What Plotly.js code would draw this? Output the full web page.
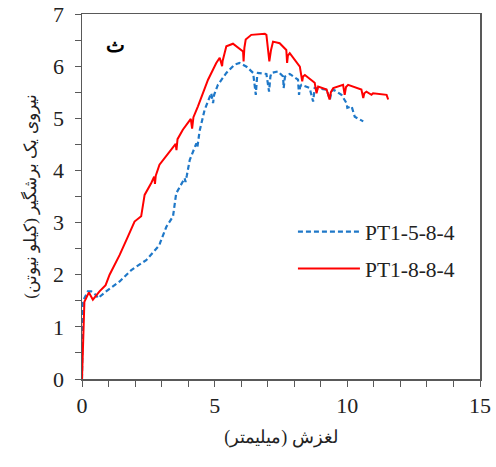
<!DOCTYPE html>
<html>
<head>
<meta charset="utf-8">
<script src="https://cdn.plot.ly/plotly-3.0.1.min.js"></script>
<style>html,body{margin:0;padding:0;background:#fff;}#chart{width:496px;height:467px;}</style>
</head>
<body>
<div id="chart"></div>
<script>
// PT1-5-8-4 (blue dashed)
const slipA = [0,0.03,0.09,0.22,0.35,0.53,0.6,0.91,1.42,1.86,2.42,2.92,2.95,3.18,3.43,3.55,3.87,3.9,3.95,4.06,4.31,4.35,4.43,4.62,4.87,4.94,4.98,5.12,5.44,5.75,5.94,6.2,6.45,6.55,6.6,6.63,6.95,7.05,7.1,7.14,7.39,7.58,7.6,7.65,7.83,8.14,8.18,8.22,8.27,8.58,8.71,8.74,8.77,9.22,9.34,9.4,9.47,9.78,9.97,10.0,10.16,10.28,10.6];
const forceA = [0,1.45,1.55,1.68,1.68,1.61,1.55,1.68,1.87,2.09,2.28,2.57,2.62,2.92,3.12,3.56,3.85,3.78,3.9,4.2,4.52,4.45,4.75,5.16,5.48,5.29,5.45,5.64,5.87,6.03,6.06,5.99,5.87,5.45,5.8,5.87,5.85,5.51,5.8,5.87,5.9,5.8,5.58,5.8,5.85,5.74,5.45,5.6,5.64,5.58,5.32,5.55,5.58,5.55,5.36,5.5,5.55,5.45,5.29,5.2,5.23,5.03,4.94];
// PT1-8-8-4 (red solid)
const slipB = [0,0.09,0.26,0.41,0.66,0.89,1.04,1.42,1.73,1.98,2.23,2.36,2.61,2.72,2.75,2.78,2.92,3.24,3.53,3.56,3.6,3.8,4.06,4.1,4.15,4.2,4.37,4.75,5.06,5.19,5.28,5.3,5.44,5.69,6.07,6.09,6.12,6.17,6.38,6.89,6.95,7.06,7.12,7.2,7.45,7.7,7.73,7.76,7.83,8.21,8.3,8.33,8.4,8.77,8.84,8.88,8.9,9.22,9.33,9.38,9.47,9.84,9.9,9.95,10.03,10.53,10.6,10.64,10.72,10.91,10.97,11.48,11.54];
const forceB = [0,1.48,1.66,1.52,1.68,1.8,2.0,2.38,2.73,3.02,3.12,3.53,3.76,3.88,3.74,3.9,4.11,4.33,4.51,4.39,4.6,4.78,4.97,4.99,4.8,5.02,5.23,5.74,6.06,6.16,6.0,6.1,6.38,6.43,6.28,6.09,6.35,6.51,6.6,6.62,6.6,6.09,6.3,6.47,6.44,6.31,6.06,6.2,6.25,5.99,5.71,5.8,5.83,5.68,5.48,5.58,5.61,5.55,5.36,5.5,5.58,5.64,5.45,5.6,5.64,5.55,5.39,5.48,5.51,5.45,5.48,5.45,5.36];
const seriesNames = ['PT1-5-8-4','PT1-8-8-4'];
const xTitle = 'لغزش (میلیمتر)';
const yTitle = 'نیروی یک برشگیر (کیلو نیوتن)';
const panelLabel = 'ث';

const serif = '"Liberation Serif", serif';
const axisColor = '#595959';

const traces = [
  {x: slipA, y: forceA, name: seriesNames[0], type: 'scatter', mode: 'lines', legendgroup: 'a',
   line: {color: '#1f78c8', width: 2.2, dash: '5px,3px'}},
  {x: slipB, y: forceB, name: seriesNames[1], type: 'scatter', mode: 'lines', legendgroup: 'b',
   line: {color: '#ff0000', width: 2}}
];

const layout = {
  width: 496, height: 467,
  margin: {l: 82, r: 16, t: 14, b: 88},
  paper_bgcolor: '#fff', plot_bgcolor: '#fff',
  showlegend: true,
  legend: {x: 0.53, y: 0.46, xanchor: 'left', yanchor: 'top', bgcolor: 'rgba(0,0,0,0)',
           font: {family: serif, size: 21.5, color: '#222'}, itemwidth: 62, tracegroupgap: 6,
           traceorder: 'grouped'},
  xaxis: {range: [0, 15], tickvals: [0,5,10,15], ticks: 'outside', ticklen: 6, tickcolor: axisColor,
          showline: true, linecolor: axisColor, linewidth: 1.5, mirror: true, showgrid: false, zeroline: false,
          tickfont: {family: serif, size: 22, color: '#222'},
          minor: {dtick: 1, ticks: 'outside', ticklen: 6, tickcolor: axisColor, showgrid: false},
          title: {text: xTitle, font: {family: serif, size: 18, color: '#222'}, standoff: 13}},
  yaxis: {range: [0, 7], dtick: 1, ticks: 'outside', ticklen: 6, tickcolor: axisColor,
          showline: true, linecolor: axisColor, linewidth: 1.5, mirror: true, showgrid: false, zeroline: false,
          tickfont: {family: serif, size: 22, color: '#222'}, ticklabelstandoff: 6,
          minor: {dtick: 0.5, ticks: 'outside', ticklen: 6, tickcolor: axisColor, showgrid: false},
          title: {text: yTitle, font: {family: serif, size: 17, color: '#222'}, standoff: 12}},
  annotations: [{xref: 'paper', yref: 'paper', x: 0.055, y: 0.95, text: '<b>' + panelLabel + '</b>',
                 showarrow: false, font: {family: serif, size: 20, color: '#000'}}]
};

Plotly.newPlot('chart', traces, layout, {displayModeBar: false, staticPlot: true});
</script>
</body>
</html>
